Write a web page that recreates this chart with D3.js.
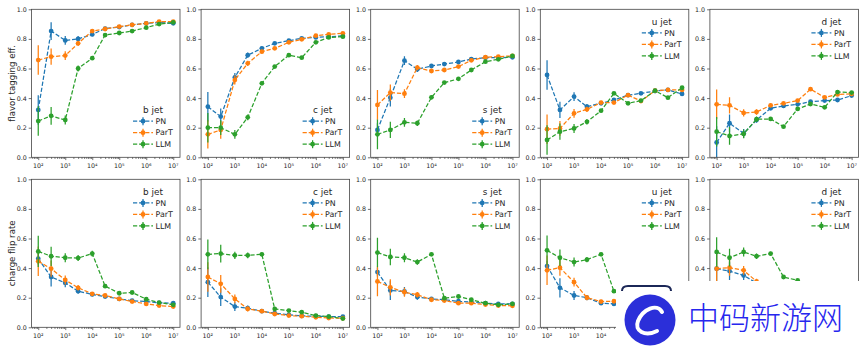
<!DOCTYPE html>
<html lang="en">
<head>
<meta charset="UTF-8">
<title>Flavor tagging and charge flip rate</title>
<script src="https://d3js.org/d3.v7.min.js"></script>
<style>
  body { margin: 0; background: #fff; }
  text { font-family: "DejaVu Sans", sans-serif; fill: #262626; }
</style>
</head>
<body>
<svg width="865" height="346"></svg>
<script>
const trainSize = [1e2, 3e2, 1e3, 3e3, 1e4, 3e4, 1e5, 3e5, 1e6, 3e6, 1e7];
const jets = ["b", "c", "s", "u", "d"];
const models = ["PN", "ParT", "LLM"];
const colors = ["#1f77b4", "#ff7f0e", "#2ca02c"];
const yTicks = [0, 0.2, 0.4, 0.6, 0.8, 1.0];
const xTicks = [1e2, 1e3, 1e4, 1e5, 1e6, 1e7];

// flavor tagging efficiency (value, error)
const effB_PN   = [0.32, 0.853, 0.79, 0.80, 0.83, 0.87, 0.88, 0.895, 0.905, 0.91, 0.905];
const effB_PNe  = [0.10, 0.06, 0.03, 0.02, 0.012, 0.008, 0.006, 0.005, 0.004, 0.003, 0.003];
const effB_ParT = [0.657, 0.68, 0.687, 0.77, 0.853, 0.867, 0.883, 0.895, 0.905, 0.917, 0.917];
const effB_ParTe= [0.10, 0.055, 0.03, 0.018, 0.012, 0.008, 0.006, 0.005, 0.004, 0.003, 0.003];
const effB_LLM  = [0.245, 0.28, 0.252, 0.60, 0.67, 0.826, 0.84, 0.853, 0.876, 0.90, 0.912];
const effB_LLMe = [0.10, 0.06, 0.03, 0.02, 0.012, 0.008, 0.006, 0.005, 0.004, 0.003, 0.003];

const effC_PN   = [0.342, 0.275, 0.54, 0.69, 0.736, 0.77, 0.788, 0.804, 0.81, 0.815, 0.82];
const effC_PNe  = [0.10, 0.055, 0.03, 0.018, 0.012, 0.008, 0.006, 0.005, 0.004, 0.003, 0.003];
const effC_ParT = [0.155, 0.185, 0.522, 0.635, 0.714, 0.736, 0.777, 0.797, 0.822, 0.831, 0.838];
const effC_ParTe= [0.095, 0.06, 0.03, 0.018, 0.012, 0.008, 0.006, 0.005, 0.004, 0.003, 0.003];
const effC_LLM  = [0.20, 0.20, 0.155, 0.27, 0.50, 0.613, 0.69, 0.673, 0.777, 0.81, 0.815];
const effC_LLMe = [0.10, 0.05, 0.03, 0.02, 0.012, 0.008, 0.006, 0.005, 0.004, 0.003, 0.003];

const effS_PN   = [0.185, 0.403, 0.653, 0.595, 0.617, 0.63, 0.644, 0.664, 0.673, 0.673, 0.676];
const effS_PNe  = [0.045, 0.06, 0.03, 0.018, 0.012, 0.008, 0.006, 0.005, 0.004, 0.003, 0.003];
const effS_ParT = [0.354, 0.437, 0.43, 0.606, 0.583, 0.59, 0.613, 0.655, 0.676, 0.68, 0.685];
const effS_ParTe= [0.10, 0.055, 0.03, 0.018, 0.012, 0.008, 0.006, 0.005, 0.004, 0.003, 0.003];
const effS_LLM  = [0.155, 0.185, 0.236, 0.23, 0.405, 0.505, 0.53, 0.59, 0.646, 0.662, 0.685];
const effS_LLMe = [0.10, 0.055, 0.03, 0.018, 0.012, 0.008, 0.006, 0.005, 0.004, 0.003, 0.003];

const effU_PN   = [0.556, 0.32, 0.41, 0.342, 0.365, 0.387, 0.42, 0.432, 0.448, 0.455, 0.428];
const effU_PNe  = [0.10, 0.055, 0.03, 0.018, 0.012, 0.008, 0.006, 0.005, 0.004, 0.003, 0.003];
const effU_ParT = [0.19, 0.195, 0.297, 0.324, 0.37, 0.37, 0.42, 0.38, 0.45, 0.455, 0.455];
const effU_ParTe= [0.10, 0.05, 0.03, 0.018, 0.012, 0.008, 0.006, 0.005, 0.004, 0.003, 0.003];
const effU_LLM  = [0.117, 0.173, 0.195, 0.24, 0.315, 0.432, 0.365, 0.383, 0.45, 0.403, 0.47];
const effU_LLMe = [0.10, 0.055, 0.03, 0.018, 0.012, 0.008, 0.006, 0.005, 0.004, 0.003, 0.003];

const effD_PN   = [0.10, 0.23, 0.162, 0.252, 0.331, 0.347, 0.358, 0.376, 0.383, 0.387, 0.417];
const effD_PNe  = [0.11, 0.06, 0.03, 0.018, 0.012, 0.008, 0.006, 0.005, 0.004, 0.003, 0.003];
const effD_ParT = [0.358, 0.351, 0.30, 0.306, 0.351, 0.365, 0.383, 0.46, 0.405, 0.425, 0.428];
const effD_ParTe= [0.10, 0.055, 0.025, 0.018, 0.012, 0.008, 0.006, 0.005, 0.004, 0.003, 0.003];
const effD_LLM  = [0.173, 0.144, 0.158, 0.257, 0.259, 0.207, 0.327, 0.36, 0.338, 0.441, 0.437];
const effD_LLMe = [0.10, 0.06, 0.03, 0.018, 0.012, 0.008, 0.006, 0.005, 0.004, 0.003, 0.003];

// charge flip rate (value, error)
const cfB_PN    = [0.464, 0.34, 0.30, 0.244, 0.222, 0.208, 0.192, 0.18, 0.174, 0.165, 0.163];
const cfB_PNe   = [0.04, 0.065, 0.03, 0.018, 0.012, 0.008, 0.006, 0.005, 0.004, 0.003, 0.003];
const cfB_ParT  = [0.446, 0.396, 0.32, 0.267, 0.226, 0.215, 0.192, 0.174, 0.158, 0.147, 0.14];
const cfB_ParTe = [0.10, 0.055, 0.03, 0.018, 0.012, 0.008, 0.006, 0.005, 0.004, 0.003, 0.003];
const cfB_LLM   = [0.513, 0.48, 0.47, 0.468, 0.498, 0.278, 0.23, 0.235, 0.19, 0.167, 0.152];
const cfB_LLMe  = [0.105, 0.065, 0.03, 0.02, 0.02, 0.01, 0.008, 0.006, 0.005, 0.004, 0.003];

const cfC_PN    = [0.305, 0.204, 0.14, 0.129, 0.109, 0.095, 0.084, 0.077, 0.075, 0.072, 0.072];
const cfC_PNe   = [0.10, 0.06, 0.03, 0.018, 0.012, 0.008, 0.006, 0.005, 0.004, 0.003, 0.003];
const cfC_ParT  = [0.34, 0.294, 0.192, 0.124, 0.109, 0.09, 0.079, 0.075, 0.068, 0.063, 0.061];
const cfC_ParTe = [0.10, 0.06, 0.03, 0.018, 0.012, 0.008, 0.006, 0.005, 0.004, 0.003, 0.003];
const cfC_LLM   = [0.493, 0.498, 0.486, 0.486, 0.493, 0.124, 0.113, 0.102, 0.079, 0.072, 0.059];
const cfC_LLMe  = [0.10, 0.06, 0.025, 0.02, 0.012, 0.008, 0.006, 0.005, 0.004, 0.003, 0.003];

const cfS_PN    = [0.373, 0.249, 0.242, 0.204, 0.192, 0.186, 0.176, 0.17, 0.163, 0.158, 0.158];
const cfS_PNe   = [0.03, 0.065, 0.03, 0.018, 0.012, 0.008, 0.006, 0.005, 0.004, 0.003, 0.003];
const cfS_ParT  = [0.31, 0.27, 0.237, 0.22, 0.186, 0.181, 0.163, 0.163, 0.154, 0.147, 0.145];
const cfS_ParTe = [0.10, 0.055, 0.03, 0.018, 0.012, 0.008, 0.006, 0.005, 0.004, 0.003, 0.003];
const cfS_LLM   = [0.505, 0.475, 0.47, 0.441, 0.493, 0.197, 0.208, 0.186, 0.163, 0.152, 0.158];
const cfS_LLMe  = [0.10, 0.055, 0.03, 0.018, 0.012, 0.008, 0.006, 0.005, 0.004, 0.003, 0.003];

const cfU_PN    = [0.414, 0.267, 0.215, 0.20, 0.163, 0.158, 0.15, 0.145, 0.14, 0.135, 0.13];
const cfU_PNe   = [0.035, 0.065, 0.03, 0.018, 0.012, 0.008, 0.006, 0.005, 0.004, 0.003, 0.003];
const cfU_ParT  = [0.385, 0.403, 0.305, 0.20, 0.174, 0.176, 0.16, 0.15, 0.14, 0.13, 0.125];
const cfU_ParTe = [0.10, 0.055, 0.03, 0.018, 0.012, 0.008, 0.006, 0.005, 0.004, 0.003, 0.003];
const cfU_LLM   = [0.52, 0.47, 0.441, 0.457, 0.493, 0.244, 0.20, 0.19, 0.17, 0.15, 0.14];
const cfU_LLMe  = [0.10, 0.055, 0.03, 0.018, 0.012, 0.008, 0.006, 0.005, 0.004, 0.003, 0.003];

const cfD_PN    = [0.396, 0.38, 0.35, 0.30, 0.25, 0.22, 0.20, 0.18, 0.17, 0.16, 0.155];
const cfD_PNe   = [0.10, 0.06, 0.03, 0.018, 0.012, 0.008, 0.006, 0.005, 0.004, 0.003, 0.003];
const cfD_ParT  = [0.396, 0.403, 0.385, 0.31, 0.26, 0.22, 0.20, 0.18, 0.17, 0.16, 0.155];
const cfD_ParTe = [0.10, 0.055, 0.03, 0.018, 0.012, 0.008, 0.006, 0.005, 0.004, 0.003, 0.003];
const cfD_LLM   = [0.509, 0.47, 0.509, 0.48, 0.498, 0.34, 0.317, 0.25, 0.22, 0.19, 0.17];
const cfD_LLMe  = [0.10, 0.06, 0.03, 0.018, 0.012, 0.008, 0.006, 0.005, 0.004, 0.003, 0.003];

const rows = [
  { label: "flavor tagging eff.", top: 9.3, lowLegend: ["b", "c", "s"],
    data: {
      b: [[effB_PN, effB_PNe], [effB_ParT, effB_ParTe], [effB_LLM, effB_LLMe]],
      c: [[effC_PN, effC_PNe], [effC_ParT, effC_ParTe], [effC_LLM, effC_LLMe]],
      s: [[effS_PN, effS_PNe], [effS_ParT, effS_ParTe], [effS_LLM, effS_LLMe]],
      u: [[effU_PN, effU_PNe], [effU_ParT, effU_ParTe], [effU_LLM, effU_LLMe]],
      d: [[effD_PN, effD_PNe], [effD_ParT, effD_ParTe], [effD_LLM, effD_LLMe]]
    } },
  { label: "charge flip rate", top: 179.3, lowLegend: [],
    data: {
      b: [[cfB_PN, cfB_PNe], [cfB_ParT, cfB_ParTe], [cfB_LLM, cfB_LLMe]],
      c: [[cfC_PN, cfC_PNe], [cfC_ParT, cfC_ParTe], [cfC_LLM, cfC_LLMe]],
      s: [[cfS_PN, cfS_PNe], [cfS_ParT, cfS_ParTe], [cfS_LLM, cfS_LLMe]],
      u: [[cfU_PN, cfU_PNe], [cfU_ParT, cfU_ParTe], [cfU_LLM, cfU_LLMe]],
      d: [[cfD_PN, cfD_PNe], [cfD_ParT, cfD_ParTe], [cfD_LLM, cfD_LLMe]]
    } }
];

const svg = d3.select("svg");
const panelW = 148.5, panelH = 148, left0 = 31.5, step = 169.6;
const dash = "4.2,1.9";
// the white watermark box in the lower right corner hides whatever is under it
const wmBox = { x: 616, y: 281 };
const underWatermark = (px, py) => px >= wmBox.x - 4 && py >= wmBox.y - 2;

const minor = [];
for (let k = 1; k <= 7; k++) for (let m = 2; m <= 9; m++) {
  const v = m * Math.pow(10, k);
  if (v > Math.pow(10, 1.75) && v < Math.pow(10, 7.25)) minor.push(v);
}
const sup = { 2: "\u00b2", 3: "\u00b3", 4: "\u2074", 5: "\u2075", 6: "\u2076", 7: "\u2077" };

rows.forEach((row, ri) => {
  jets.forEach((jet, ji) => {
    const left = left0 + ji * step, top = row.top;
    const x = d3.scaleLog().domain([Math.pow(10, 1.75), Math.pow(10, 7.25)]).range([left, left + panelW]);
    const y = d3.scaleLinear().domain([0, 1]).range([top + panelH, top]);
    const g = svg.append("g");
    const clipId = `clip-${ri}-${ji}`;
    g.append("clipPath").attr("id", clipId).append("rect")
      .attr("x", left).attr("y", top).attr("width", panelW).attr("height", panelH);

    // axes
    const ya = g.append("g").attr("transform", `translate(${left},0)`)
      .call(d3.axisLeft(y).tickValues(yTicks).tickFormat(d3.format(".1f")).tickSize(2.8).tickPadding(2));
    const xa = g.append("g").attr("transform", `translate(0,${top + panelH})`)
      .call(d3.axisBottom(x).tickValues(xTicks).tickFormat("").tickSize(2.8));
    const xm = g.append("g").attr("transform", `translate(0,${top + panelH})`)
      .call(d3.axisBottom(x).tickValues(minor).tickFormat("").tickSize(1.6));
    [ya, xa, xm].forEach(a => {
      a.select(".domain").remove();
      a.selectAll(".tick line").attr("stroke", "#333").attr("stroke-width", 0.7);
    });
    ya.selectAll(".tick text").style("font-size", "6.3px").attr("fill", "#262626");
    ya.selectAll(".tick").filter(d => underWatermark(left - 8, y(d))).select("text").remove();

    xTicks.forEach(t => {
      if (underWatermark(x(t), top + panelH + 8)) return;
      const tx = g.append("text").attr("x", x(t)).attr("y", top + panelH + 10.2)
        .attr("text-anchor", "middle").style("font-size", "6.3px");
      tx.append("tspan").text("10");
      tx.append("tspan").text(sup[Math.round(Math.log10(t))]);
    });

    // data
    const plot = g.append("g").attr("clip-path", `url(#${clipId})`);
    row.data[jet].forEach(([vals, errs], mi) => {
      const c = colors[mi];
      const line = d3.line().x((d, i) => x(trainSize[i])).y(d => y(d));
      plot.append("path").datum(vals).attr("d", line)
        .attr("fill", "none").attr("stroke", c).attr("stroke-width", 1.25)
        .attr("stroke-dasharray", dash);
      plot.selectAll(null).data(vals).enter().append("line")
        .attr("x1", (d, i) => x(trainSize[i])).attr("x2", (d, i) => x(trainSize[i]))
        .attr("y1", (d, i) => y(d - errs[i])).attr("y2", (d, i) => y(d + errs[i]))
        .attr("stroke", c).attr("stroke-width", 1.25);
      plot.selectAll(null).data(vals).enter().append("circle")
        .attr("cx", (d, i) => x(trainSize[i])).attr("cy", d => y(d)).attr("r", 2.4)
        .attr("fill", c);
    });

    g.append("rect").attr("x", left).attr("y", top).attr("width", panelW).attr("height", panelH)
      .attr("fill", "none").attr("stroke", "#444").attr("stroke-width", 0.8);

    // legend
    const right = left + panelW;
    const low = row.lowLegend.includes(jet);
    const ly = low ? top + panelH - 47.3 : top + 12.4;
    const lg = g.append("g");
    lg.append("text").attr("x", right - 27).attr("y", ly).attr("dy", "0.35em")
      .attr("text-anchor", "middle").style("font-size", "8.9px").text(`${jet} jet`);
    models.forEach((m, mi) => {
      const yy = ly + 11.2 + mi * 11.5;
      const c = colors[mi];
      lg.append("line").attr("x1", right - 47).attr("x2", right - 27).attr("y1", yy).attr("y2", yy)
        .attr("stroke", c).attr("stroke-width", 1.25).attr("stroke-dasharray", dash);
      lg.append("line").attr("x1", right - 37).attr("x2", right - 37).attr("y1", yy - 4).attr("y2", yy + 4)
        .attr("stroke", c).attr("stroke-width", 1.25);
      lg.append("circle").attr("cx", right - 37).attr("cy", yy).attr("r", 2.4).attr("fill", c);
      lg.append("text").attr("x", right - 24.5).attr("y", yy).attr("dy", "0.35em")
        .style("font-size", "7.9px").text(m);
    });
  });

  // row label
  svg.append("text")
    .attr("transform", `translate(11.5,${row.top + panelH / 2}) rotate(-90)`)
    .attr("text-anchor", "middle").attr("dy", "0.35em")
    .style("font-size", "8.6px").text(row.label);
});

// watermark overlay
const wm = svg.append("g");
wm.append("rect").attr("x", wmBox.x).attr("y", wmBox.y).attr("width", 865 - wmBox.x).attr("height", 346 - wmBox.y)
  .attr("fill", "#fff");
wm.append("path").attr("d", "M622,291 Q622,286 628,286 L665,286 Q671,286 671,291")
  .attr("fill", "none").attr("stroke", "#1b2757").attr("stroke-width", 2);
wm.append("circle").attr("cx", 650).attr("cy", 320).attr("r", 25.5).attr("fill", "#2b2fd9");
wm.append("path").attr("d", "M662,312 C657,303 643,309 638,321 C634,331 645,337 657,331")
  .attr("fill", "none").attr("stroke", "#fff").attr("stroke-width", 4).attr("stroke-linecap", "round");
wm.append("text").attr("x", 688).attr("y", 329)
  .style("font-family", "'Noto Sans CJK SC', sans-serif").style("font-size", "31px")
  .style("font-weight", 300).style("fill", "#2626ee").text("中码新游网");
</script>
</body>
</html>
